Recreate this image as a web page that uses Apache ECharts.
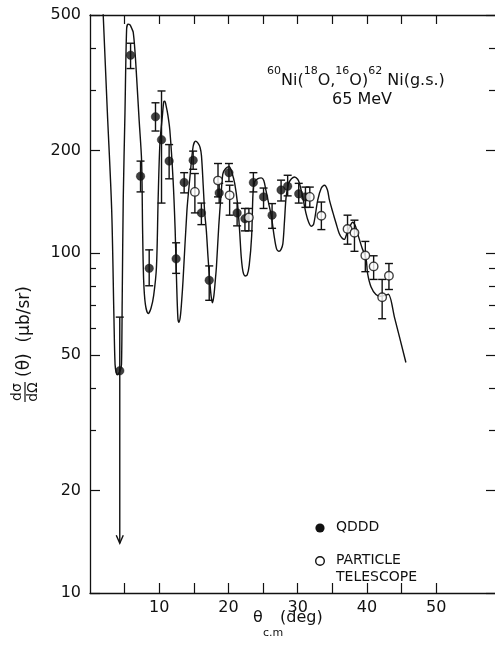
<!DOCTYPE html>
<html><head><meta charset="utf-8">
<script src="https://cdn.jsdelivr.net/npm/echarts@6/dist/echarts.min.js"></script>
<style>html,body{margin:0;padding:0;background:#fff}#c{width:495px;height:648px}</style>
</head><body><div id="c"></div>
<script>
// ---- axis ticks / labels ----
const xTickValues = [5, 10, 15, 20, 25, 30, 35, 40, 45, 50];
const xLabelValues = [10, 20, 30, 40, 50];
const yMajorValues = [10, 20, 50, 100, 200, 500];
const yMinorValues = [30, 40, 60, 70, 80, 90, 300, 400];

// ---- QDDD (filled) data ----
const qdddX  = [4.3, 5.86, 7.3, 8.55, 9.46, 10.33, 11.43, 12.44, 13.6, 14.9, 16.09, 17.22, 18.66, 20.07, 21.25, 22.38, 23.6, 25.07, 26.3, 27.6, 28.55, 30.15, 31.12];
const qdddY  = [45, 381, 168, 90, 251, 215, 186, 96, 161, 187, 131, 83, 150, 172, 131, 126, 161, 146, 129, 153, 157, 149, 146];
const qdddLo = [14, 348, 151, 80, 228, 140, 165, 87, 150, 176, 121, 72.5, 140, 162, 120, 116, 151, 135, 118, 142, 147, 140, 136];
const qdddHi = [64.7, 413, 186, 102, 276, 299, 208, 107, 172, 199, 140, 91.5, 160, 183, 140, 135, 172, 155, 139.5, 163.5, 169, 160, 156];
const qdddLowerIsLimit = [1, 0, 0, 0, 0, 0, 0, 0, 0, 0, 0, 0, 0, 0, 0, 0, 0, 0, 0, 0, 0, 0, 0];

// ---- Particle telescope (open) data ----
const ptX  = [15.15, 18.49, 20.17, 22.95, 31.75, 33.42, 37.2, 38.2, 39.77, 40.97, 42.2, 43.18];
const ptY  = [151, 163, 147.5, 127, 146, 128.5, 117.5, 114.5, 98.2, 91.2, 74, 85.6];
const ptLo = [131, 146, 129, 116, 136, 117, 106, 101, 88, 83.5, 64, 78];
const ptHi = [171, 183, 158, 135, 156, 141, 129, 124.7, 108, 98, 83.5, 93];

// ---- theory curve ----
const curveX = [1.80, 1.92, 2.5, 3.13, 3.45, 3.62, 3.8, 3.96, 4.15, 4.4, 4.55, 4.65, 4.8, 5.05, 5.29, 5.5, 5.76, 6.0, 6.24, 6.5, 6.73, 7.1, 7.45, 7.6, 7.75, 8.0, 8.4, 8.8, 9.2, 9.6, 9.84, 10.1, 10.45, 10.66, 10.8, 11.0, 11.25, 11.53, 12.0, 12.3, 12.5, 12.7, 12.85, 13.05, 13.25, 13.44, 14.0, 14.4, 14.89, 15.25, 15.6, 15.9, 16.1, 16.35, 16.57, 16.8, 17.05, 17.29, 17.5, 17.68, 17.9, 18.1, 18.26, 18.6, 18.98, 19.2, 19.6, 20.1, 20.5, 20.9, 21.3, 21.6, 21.85, 22.1, 22.4, 22.7, 23.0, 23.35, 23.55, 23.8, 24.2, 24.74, 25.1, 25.4, 25.8, 26.2, 26.6, 26.95, 27.3, 27.6, 27.86, 28.1, 28.33, 28.7, 29.1, 29.54, 30.0, 30.26, 30.7, 31.2, 31.6, 31.94, 32.3, 32.9, 33.4, 33.86, 34.3, 34.58, 35.1, 35.55, 36.0, 36.4, 36.74, 37.1, 37.5, 37.94, 38.3, 38.66, 39.3, 39.87, 40.1, 40.6, 41.3, 42.0, 42.6, 43.1, 44.0, 45.63];
const curveY = [560, 494, 261, 134, 65.7, 47, 44.3, 43.8, 44.2, 45.3, 47, 72, 143, 257, 455, 470, 468, 458, 445, 390, 329, 245, 187, 116, 83, 70.5, 66.3, 68.6, 75, 90.8, 143, 210, 252, 278, 279, 270, 254, 229.5, 164, 116.6, 83, 64, 62.5, 65, 72.6, 83, 133, 164, 205, 213, 210, 204, 193, 158, 131, 116.6, 97, 83, 74.5, 71.3, 75, 83, 90.8, 120, 153, 171, 177, 179, 172, 160, 140, 117, 97, 88, 85.5, 86, 92, 112, 150, 162, 165, 166, 163, 153, 140, 128, 112, 102.7, 101, 102.3, 106.4, 124.5, 146, 160, 165, 167, 164.5, 159.8, 146.6, 130.6, 122.7, 119.7, 121.3, 143, 154.8, 158, 153, 143, 131, 121.9, 114, 110.5, 109.5, 114, 119, 123, 120.5, 113.8, 103.3, 96.1, 86.8, 79.3, 75.4, 74.5, 75, 75.5, 64.4, 47.6];

const INK = '#111';
const FONT = 'DejaVu Sans';

function errRender(params, api) {
  const x = api.value(0), lo = api.value(1), hi = api.value(2), lim = api.value(3);
  const pLo = api.coord([x, lo]);
  const pHi = api.coord([x, hi]);
  const w = 4;
  const st = { stroke: INK, lineWidth: 1.4, fill: null };
  const ch = [
    { type: 'line', shape: { x1: pLo[0], y1: pLo[1], x2: pHi[0], y2: pHi[1] }, style: st },
    { type: 'line', shape: { x1: pHi[0] - w, y1: pHi[1], x2: pHi[0] + w, y2: pHi[1] }, style: st }
  ];
  if (lim) {
    ch.push({ type: 'polyline', shape: { points: [[pLo[0] - 3.5, pLo[1] - 8], [pLo[0], pLo[1]], [pLo[0] + 3.5, pLo[1] - 8]] }, style: st });
  } else {
    ch.push({ type: 'line', shape: { x1: pLo[0] - w, y1: pLo[1], x2: pLo[0] + w, y2: pLo[1] }, style: st });
  }
  return { type: 'group', children: ch };
}

const chart = echarts.init(document.getElementById('c'), null, { renderer: 'canvas' });
const grid = { left: 90, top: 15, right: -1, bottom: 55 };
const X_MIN = 0, X_MAX = 58.5, Y_MIN = 10, Y_MAX = 500;

const axisLineStyle = { show: true, lineStyle: { color: INK, width: 1.3 } };
const labelStyle = { fontFamily: FONT, fontSize: 16, color: INK };

const option = {
  backgroundColor: '#fff',
  animation: false,
  grid: grid,
  xAxis: [
    { type: 'value', min: X_MIN, max: X_MAX, position: 'bottom',
      axisLine: axisLineStyle, splitLine: { show: false },
      axisTick: { show: true, inside: true, length: 10, lineStyle: { color: INK, width: 1.2 }, customValues: xTickValues },
      axisLabel: Object.assign({ margin: 7, customValues: xLabelValues }, labelStyle) },
    { type: 'value', min: X_MIN, max: X_MAX, position: 'top',
      axisLine: axisLineStyle, splitLine: { show: false },
      axisTick: { show: true, inside: true, length: 9, lineStyle: { color: INK, width: 1.2 }, customValues: xTickValues },
      axisLabel: { show: false } }
  ],
  yAxis: [
    { type: 'log', logBase: 10, min: Y_MIN, max: Y_MAX, position: 'left',
      axisLine: axisLineStyle, splitLine: { show: false }, minorTick: { show: false },
      axisTick: { show: true, inside: true, length: 10, lineStyle: { color: INK, width: 1.2 }, customValues: yMajorValues },
      axisLabel: Object.assign({ margin: 9, customValues: yMajorValues, formatter: v => String(Math.round(v)) }, labelStyle) },
    { type: 'log', logBase: 10, min: Y_MIN, max: Y_MAX, position: 'left',
      axisLine: { show: false }, splitLine: { show: false },
      axisTick: { show: true, inside: true, length: 6, lineStyle: { color: INK, width: 1.2 }, customValues: yMinorValues },
      axisLabel: { show: false } },
    { type: 'log', logBase: 10, min: Y_MIN, max: Y_MAX, position: 'right',
      axisLine: { show: false }, splitLine: { show: false },
      axisTick: { show: true, inside: true, length: 9, lineStyle: { color: INK, width: 1.2 }, customValues: yMajorValues },
      axisLabel: { show: false } },
    { type: 'log', logBase: 10, min: Y_MIN, max: Y_MAX, position: 'right',
      axisLine: { show: false }, splitLine: { show: false },
      axisTick: { show: true, inside: true, length: 6, lineStyle: { color: INK, width: 1.2 }, customValues: yMinorValues },
      axisLabel: { show: false } }
  ],
  series: [
    { name: 'theory', type: 'line', xAxisIndex: 0, yAxisIndex: 0, smooth: 0.3, showSymbol: false, clip: true,
      lineStyle: { color: INK, width: 1.4 }, z: 2, silent: true,
      data: curveX.map((x, i) => [x, curveY[i]]) },
    { name: 'QDDD err', type: 'custom', xAxisIndex: 0, yAxisIndex: 0, renderItem: errRender, z: 3, silent: true,
      encode: { x: 0, y: [1, 2] },
      data: qdddX.map((x, i) => [x, qdddLo[i], qdddHi[i], qdddLowerIsLimit[i]]) },
    { name: 'PT err', type: 'custom', xAxisIndex: 0, yAxisIndex: 0, renderItem: errRender, z: 3, silent: true,
      encode: { x: 0, y: [1, 2] },
      data: ptX.map((x, i) => [x, ptLo[i], ptHi[i], 0]) },
    { name: 'QDDD', type: 'scatter', xAxisIndex: 0, yAxisIndex: 0, symbol: 'circle', symbolSize: 8.5, z: 5,
      itemStyle: { color: INK, borderColor: INK, borderWidth: 0.5 },
      data: qdddX.map((x, i) => [x, qdddY[i]]) },
    { name: 'PARTICLE TELESCOPE', type: 'scatter', xAxisIndex: 0, yAxisIndex: 0, symbol: 'circle', symbolSize: 8.5, z: 6,
      itemStyle: { color: '#fff', borderColor: INK, borderWidth: 1.4 },
      data: ptX.map((x, i) => [x, ptY[i]]) }
  ],
  graphic: [
    // reaction label
    { type: 'text', left: 267, top: 66, style: {
        text: '{s|60}{n|Ni(}{s|18}{n|O,}{s|16}{n|O)}{s|62}{n| Ni(g.s.)}',
        rich: {
          n: { fontFamily: FONT, fontSize: 16, fill: INK, lineHeight: 23, verticalAlign: 'bottom' },
          s: { fontFamily: FONT, fontSize: 11, fill: INK, lineHeight: 23, verticalAlign: 'top' }
        } } },
    { type: 'text', left: 332, top: 92, style: { text: '65 MeV', fontFamily: FONT, fontSize: 16, fill: INK } },
    // legend
    { type: 'circle', shape: { cx: 320, cy: 528, r: 4.6 }, style: { fill: INK } },
    { type: 'text', left: 336, top: 520, style: { text: 'QDDD', fontFamily: FONT, fontSize: 14, fill: INK } },
    { type: 'circle', shape: { cx: 320, cy: 561, r: 4.3 }, style: { fill: '#fff', stroke: INK, lineWidth: 1.4 } },
    { type: 'text', left: 336, top: 553, style: { text: 'PARTICLE', fontFamily: FONT, fontSize: 14, fill: INK } },
    { type: 'text', left: 336, top: 570, style: { text: 'TELESCOPE', fontFamily: FONT, fontSize: 14, fill: INK } },
    // x axis title
    { type: 'text', left: 253, top: 610, style: { text: 'θ', fontFamily: FONT, fontSize: 16, fill: INK } },
    { type: 'text', left: 263, top: 628, style: { text: 'c.m', fontFamily: FONT, fontSize: 11, fill: INK } },
    { type: 'text', left: 280, top: 610, style: { text: '(deg)', fontFamily: FONT, fontSize: 16, fill: INK } },
    // y axis title (rotated)
    { type: 'group', x: 25, y: 402, rotation: Math.PI / 2, children: [
        { type: 'text', x: 10, y: -8, style: { text: 'dσ', fontFamily: FONT, fontSize: 14, fill: INK, align: 'center', verticalAlign: 'middle' } },
        { type: 'line', shape: { x1: 0, y1: 0, x2: 20, y2: 0 }, style: { stroke: INK, lineWidth: 1.2 } },
        { type: 'text', x: 10, y: 8, style: { text: 'dΩ', fontFamily: FONT, fontSize: 14, fill: INK, align: 'center', verticalAlign: 'middle' } },
        { type: 'text', x: 25, y: 0, style: { text: '(θ)  (μb/sr)', fontFamily: FONT, fontSize: 17, fill: INK, align: 'left', verticalAlign: 'middle' } }
    ] }
  ]
};
chart.setOption(option);
</script>
</body></html>
